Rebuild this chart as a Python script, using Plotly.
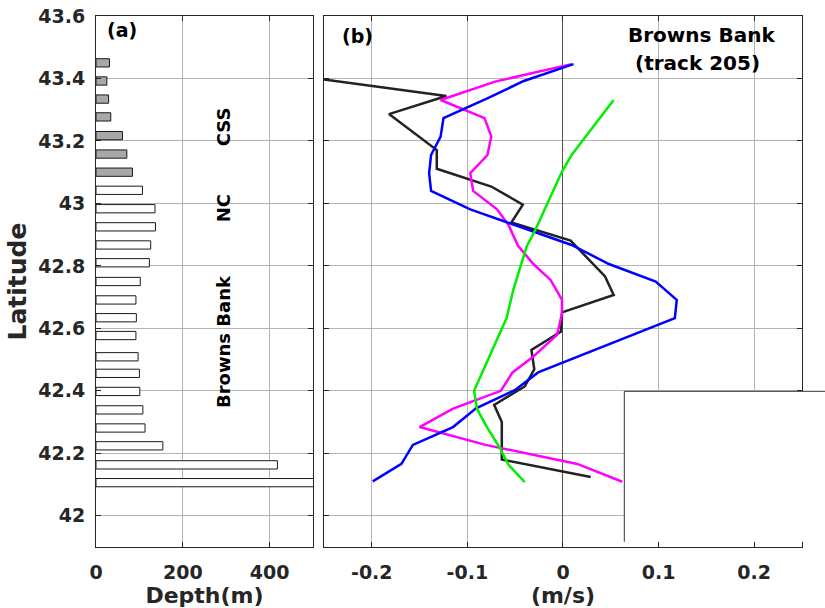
import plotly.graph_objects as go

# ---------------- data ----------------
lat_bars = [43.450, 43.392, 43.334, 43.277, 43.217, 43.158, 43.100, 43.042, 42.983,
            42.925, 42.867, 42.810, 42.750, 42.691, 42.634, 42.577, 42.509, 42.456,
            42.398, 42.339, 42.281, 42.224, 42.163, 42.106]
depth = [31, 25, 29, 34, 61, 71, 84, 107, 136, 137, 126, 123, 102, 92, 93, 92, 97,
         100, 101, 108, 113, 154, 418, 560]
bar_region = ["CSS"] * 7 + ["other"] * 17

lat_black = [43.397, 43.344, 43.286, 43.171, 43.111, 43.054, 42.996, 42.939, 42.881,
             42.766, 42.707, 42.651, 42.590, 42.531, 42.469, 42.414, 42.355, 42.300,
             42.180, 42.124]
v_black = [-0.25, -0.122, -0.182, -0.132, -0.132, -0.075, -0.042, -0.054, 0.008,
           0.044, 0.053, -0.001, -0.002, -0.033, -0.030, -0.040, -0.072, -0.064,
           -0.064, 0.029]

lat_blue = [43.446, 43.392, 43.338, 43.273, 43.214, 43.155, 43.097, 43.040, 42.981,
            42.867, 42.806, 42.750, 42.691, 42.633, 42.459, 42.403, 42.344, 42.284,
            42.227, 42.166, 42.110]
v_blue = [0.011, -0.041, -0.078, -0.125, -0.128, -0.138, -0.140, -0.138, -0.097,
          0.009, 0.048, 0.097, 0.119, 0.117, -0.026, -0.050, -0.091, -0.115,
          -0.157, -0.169, -0.199]

lat_mag = [43.446, 43.390, 43.331, 43.273, 43.214, 43.155, 43.097, 43.040, 42.981,
           42.931, 42.864, 42.806, 42.755, 42.691, 42.649, 42.580, 42.510, 42.458,
           42.400, 42.343, 42.284, 42.227, 42.166, 42.109]
v_mag = [0.009, -0.071, -0.128, -0.082, -0.075, -0.079, -0.097, -0.094, -0.069,
         -0.057, -0.047, -0.031, -0.013, -0.001, -0.001, -0.006, -0.031, -0.053,
         -0.065, -0.115, -0.150, -0.081, 0.015, 0.062]

lat_green = [43.331, 43.155, 43.102, 42.915, 42.862, 42.723, 42.633, 42.400, 42.342,
             42.286, 42.217, 42.163, 42.108]
v_green = [0.053, 0.009, -0.001, -0.029, -0.038, -0.052, -0.059, -0.093, -0.090,
           -0.080, -0.066, -0.057, -0.040]

depth_ticks = [0, 200, 400]
vel_ticks = [-0.2, -0.1, 0, 0.1, 0.2]
vel_tick_text = ["-0.2", "-0.1", "0", "0.1", "0.2"]
lat_ticks = [42, 42.2, 42.4, 42.6, 42.8, 43, 43.2, 43.4, 43.6]
lat_tick_text = ["42", "42.2", "42.4", "42.6", "42.8", "43", "43.2", "43.4", "43.6"]

# ---------------- figure ----------------
FONT = "DejaVu Sans"
AX = "#262626"
GRID = "#b4b4b4"

fig = go.Figure()
fig.add_trace(go.Bar(
    x=depth, y=lat_bars, orientation="h", width=0.0265,
    marker=dict(color=["#a8a8a8" if r == "CSS" else "white" for r in bar_region],
                line=dict(color="#1a1a1a", width=1)),
    xaxis="x", yaxis="y", showlegend=False))

for lat, v, col in [(lat_black, v_black, "#222222"), (lat_mag, v_mag, "#ff00ff"),
                    (lat_blue, v_blue, "#0000ff"), (lat_green, v_green, "#00ee00")]:
    fig.add_trace(go.Scatter(x=v, y=lat, mode="lines", line=dict(color=col, width=2.5),
                             xaxis="x2", yaxis="y2", showlegend=False))

tickfont = dict(family=FONT, size=19, color=AX, weight="bold")
common = dict(showline=True, linecolor=AX, linewidth=1, mirror="allticks",
              ticks="inside", ticklen=5, tickcolor=AX, showgrid=True,
              gridcolor=GRID, gridwidth=1, tickfont=tickfont, zeroline=False,
              automargin=False)

fig.update_layout(
    width=825, height=608, paper_bgcolor="white", plot_bgcolor="white",
    margin=dict(l=96, r=23, t=16, b=61, autoexpand=False),
    xaxis=dict(domain=[0, 0.3074], range=[0, 500], tickvals=depth_ticks,
               anchor="y", ticklabelstandoff=8,
               title=dict(text="Depth(m)", standoff=1,
                          font=dict(family=FONT, size=22, color=AX, weight="bold")),
               **common),
    yaxis=dict(domain=[0, 1], range=[41.9, 43.6], tickvals=lat_ticks,
               ticktext=lat_tick_text, anchor="x", ticklabelstandoff=6,
               title=dict(text="Latitude", standoff=4,
                          font=dict(family=FONT, size=25, color=AX, weight="bold")),
               **common),
    xaxis2=dict(domain=[0.3229, 1], range=[-0.25, 0.25], tickvals=vel_ticks,
                ticktext=vel_tick_text, anchor="y2", ticklabelstandoff=8,
                title=dict(text="(m/s)", standoff=1,
                           font=dict(family=FONT, size=22, color=AX, weight="bold")),
                **common),
    yaxis2=dict(domain=[0, 1], range=[41.9, 43.6], tickvals=lat_ticks,
                showticklabels=False, anchor="x2", matches="y", **common),
)
fig.update_xaxes(selector=dict(anchor="y2"), zeroline=True, zerolinecolor="#555555",
                 zerolinewidth=1)

# white box in lower right
fig.add_shape(type="rect", xref="paper", yref="paper", x0=0.7483, x1=1.05,
              y0=0.01, y1=0.2932, fillcolor="white", line=dict(width=0), layer="above")
fig.add_shape(type="line", xref="paper", yref="paper", x0=0.7483, x1=1.05,
              y0=0.2932, y1=0.2932, line=dict(color="#333333", width=1), layer="above")
fig.add_shape(type="line", xref="paper", yref="paper", x0=0.7483, x1=0.7483,
              y0=0.01, y1=0.2932, line=dict(color="#333333", width=1), layer="above")

tf = dict(family=FONT, color="black", weight="bold")
ann = [
    dict(text="(a)", x=60, y=43.555, xref="x", yref="y", font=dict(size=19, **tf)),
    dict(text="(b)", x=-0.215, y=43.535, xref="x2", yref="y2", font=dict(size=19, **tf)),
    dict(text="Browns Bank", x=0.145, y=43.538, xref="x2", yref="y2", font=dict(size=20, **tf)),
    dict(text="(track 205)", x=0.141, y=43.45, xref="x2", yref="y2", font=dict(size=20, **tf)),
    dict(text="CSS", x=294, y=43.246, xref="x", yref="y", textangle=-90, font=dict(size=18, **tf)),
    dict(text="NC", x=294, y=42.983, xref="x", yref="y", textangle=-90, font=dict(size=18, **tf)),
    dict(text="Browns Bank", x=294, y=42.558, xref="x", yref="y", textangle=-90, font=dict(size=18, **tf)),
]
for a in ann:
    fig.add_annotation(showarrow=False, **a)

fig.write_html("out.html")
